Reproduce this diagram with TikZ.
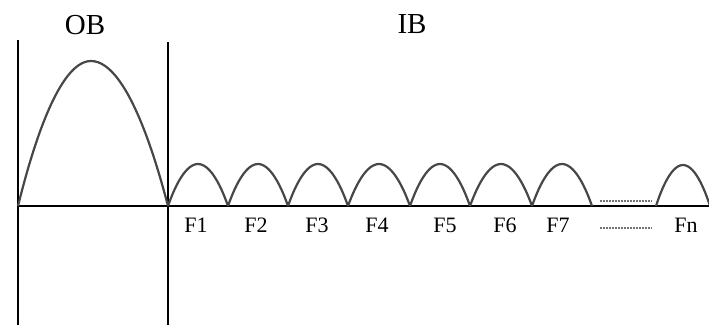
\documentclass[tikz,border=0pt]{standalone}
\usepackage{fontspec}
\setmainfont{Liberation Serif}
\usepackage{tikz}

\begin{document}
\begin{tikzpicture}[
  x=1pt, y=-1pt,
  every node/.style={inner sep=0pt},
  axis/.style={line width=1.5pt, black},
  band/.style={line width=2.2pt, black!72, line join=round},
  gap/.style={line width=1.6pt, black!55, dash pattern=on 2pt off 1pt},
  chlabel/.style={font=\fontsize{22}{22}\selectfont},
  bandlabel/.style={font=\fontsize{29}{29}\selectfont}
]
  \useasboundingbox (0,0) rectangle (709,327);

  % axes
  \draw[axis] (18,40) -- (18,325);
  \draw[axis] (168,42) -- (168,325);
  \draw[axis] (18,206) -- (709,206);

  % out-of-band lobe
  \draw[band] (18,206) parabola bend (91,61) (168,206);

  % in-band channels
  \draw[band] (168,206) parabola bend (198,164) (228,206);
  \draw[band] (228,206) parabola bend (258,164) (288,206);
  \draw[band] (288,206) parabola bend (318,164) (348,206);
  \draw[band] (348,206) parabola bend (379,164) (410,206);
  \draw[band] (410,206) parabola bend (440,164) (470,206);
  \draw[band] (470,206) parabola bend (501,164) (532,206);
  \draw[band] (532,206) parabola bend (562,164) (592,206);
  \draw[band] (656,206) parabola bend (683,165) (710,206);

  % gap marks
  \draw[gap] (600,201) -- (652,201);
  \draw[gap] (600,228) -- (652,228);

  % labels
  \node[bandlabel] (ob) at (85,25) {OB};
  \node[bandlabel] (ib) at (412,24) {IB};
  \node[chlabel] (f1) at (196,225) {F1};
  \node[chlabel] (f2) at (256,225) {F2};
  \node[chlabel] (f3) at (317,225) {F3};
  \node[chlabel] (f4) at (377,225) {F4};
  \node[chlabel] (f5) at (445,225) {F5};
  \node[chlabel] (f6) at (505,225) {F6};
  \node[chlabel] (f7) at (558,225) {F7};
  \node[chlabel] (fn) at (686,225) {Fn};
\end{tikzpicture}
\end{document}
